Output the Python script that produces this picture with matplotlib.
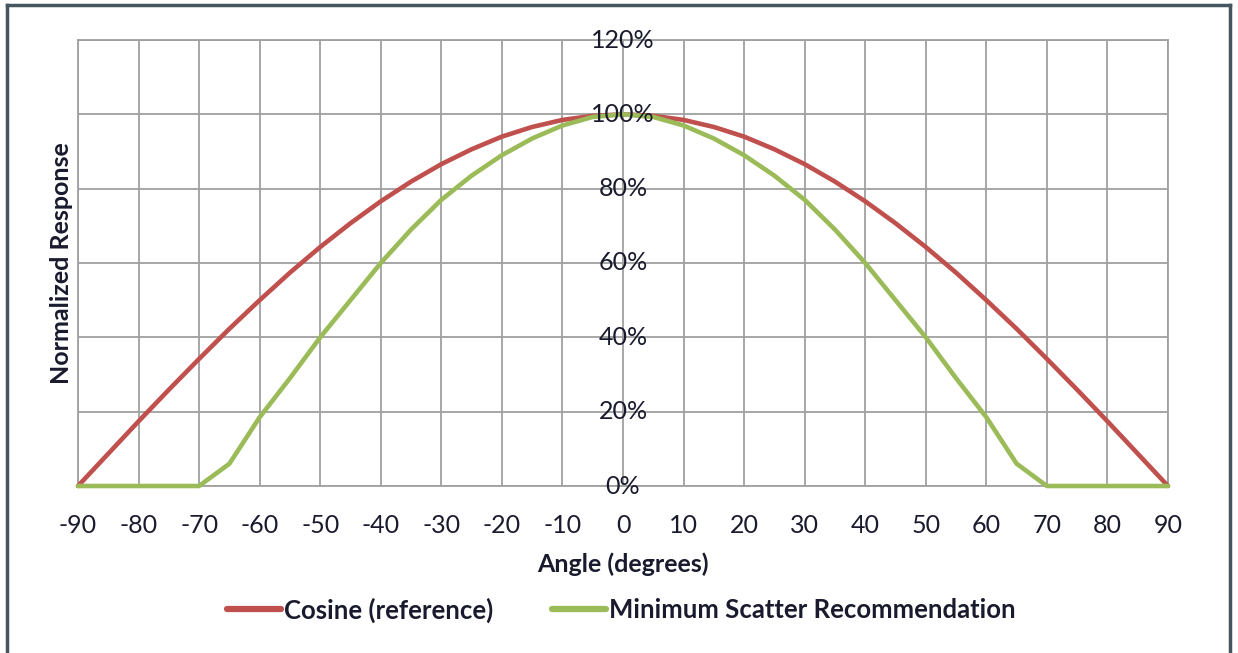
import matplotlib
matplotlib.use("Agg")
import matplotlib.pyplot as plt
from matplotlib.lines import Line2D

# angles in degrees (5 degree steps)
angles = [-90, -85, -80, -75, -70, -65, -60, -55, -50, -45, -40, -35, -30, -25, -20, -15, -10, -5,
          0, 5, 10, 15, 20, 25, 30, 35, 40, 45, 50, 55, 60, 65, 70, 75, 80, 85, 90]

# normalized response in percent
cosine_ref = [0, 8.7, 17.4, 25.9, 34.2, 42.3, 50.0, 57.4, 64.3, 70.7, 76.6, 81.9, 86.6, 90.6, 94.0, 96.6, 98.5, 99.6,
              100, 99.6, 98.5, 96.6, 94.0, 90.6, 86.6, 81.9, 76.6, 70.7, 64.3, 57.4, 50.0, 42.3, 34.2, 25.9, 17.4, 8.7, 0]
min_scatter = [0, 0, 0, 0, 0, 6, 18.5, 29, 40, 50, 60, 69, 77, 83.5, 89, 93.5, 97, 99.3,
               100, 99.3, 97, 93.5, 89, 83.5, 77, 69, 60, 50, 40, 29, 18.5, 6, 0, 0, 0, 0, 0]

x_ticks = list(range(-90, 91, 10))
y_ticks = [0, 20, 40, 60, 80, 100, 120]

plt.rcParams['font.family'] = ['Lato', 'DejaVu Sans']
text_color = '#1a1a2e'
fs = 18

fig = plt.figure(figsize=(12.38, 6.53), dpi=100)
ax = fig.add_axes([78 / 1238, 1 - 486 / 653, 1090 / 1238, 446 / 653])

ax.plot(angles, cosine_ref, color='#c0504d', linewidth=3.3, clip_on=False, zorder=3,
        solid_capstyle='round', label='Cosine (reference)')
ax.plot(angles, min_scatter, color='#9bbb59', linewidth=3.3, clip_on=False, zorder=4,
        solid_capstyle='round', label='Minimum Scatter Recommendation')

ax.set_xlim(-90, 90)
ax.set_ylim(0, 120)
ax.set_xticks(x_ticks)
ax.set_yticks(y_ticks)
ax.grid(True, color='#a0a0a0', linewidth=1.3)
ax.set_axisbelow(True)
for s in ax.spines.values():
    s.set_color('#a0a0a0')
    s.set_linewidth(1.3)

ax.tick_params(axis='both', length=0)
ax.set_xticklabels([str(t) for t in x_ticks], fontsize=fs, color=text_color)
ax.tick_params(axis='x', pad=20)
ax.set_yticklabels([])

# y tick labels sit on the vertical axis at x = 0
for v in y_ticks:
    ax.text(0, v, f'{v}%', ha='center', va='center', fontsize=fs, color=text_color, zorder=5)

ax.set_xlabel('Angle (degrees)', fontsize=fs, fontweight='bold', color=text_color, labelpad=11)
ax.set_ylabel('Normalized Response', fontsize=fs, fontweight='bold', color=text_color, labelpad=0)

handles = [Line2D([], [], color='#c0504d', linewidth=4.5, solid_capstyle='round'),
           Line2D([], [], color='#9bbb59', linewidth=4.5, solid_capstyle='round')]
fig.legend(handles, ['Cosine (reference)', 'Minimum Scatter Recommendation'],
           loc='center', bbox_to_anchor=(0.502, 1 - 610 / 653), ncol=2, frameon=False,
           prop={'size': 18.5, 'weight': 'bold'}, labelcolor=text_color,
           handlelength=2.1, handletextpad=0.1, columnspacing=2.3)

# outer frame (top, left, right)
frame_color = '#47555f'
fig.add_artist(Line2D([7 / 1238, 7 / 1238], [0, 1 - 5 / 653], color=frame_color, linewidth=2.5))
fig.add_artist(Line2D([7 / 1238, 1230 / 1238], [1 - 5 / 653, 1 - 5 / 653], color=frame_color, linewidth=2.5))
fig.add_artist(Line2D([1230 / 1238, 1230 / 1238], [0, 1 - 5 / 653], color=frame_color, linewidth=2.5))

fig.savefig('out.png', dpi=100)
